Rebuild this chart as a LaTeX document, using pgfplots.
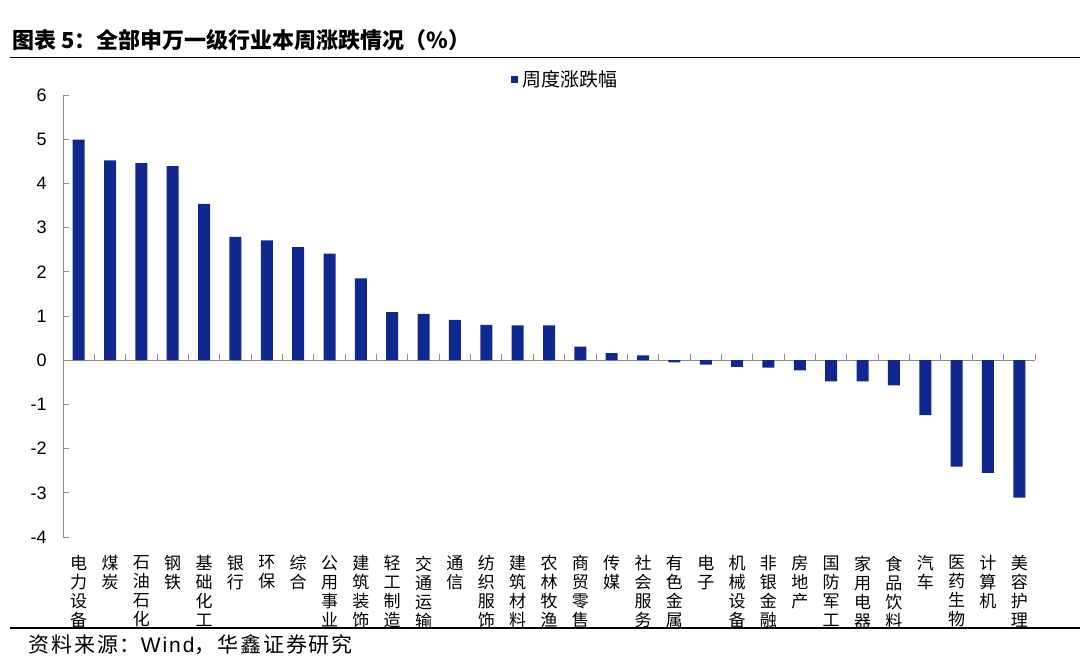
\documentclass[border=0pt]{standalone}
\usepackage{pgfplots}
\pgfplotsset{compat=1.18}
\usepackage{fontspec}
\setmainfont{Liberation Sans}
\newfontfamily\cjk{Noto Sans CJK SC}
\newfontfamily\cjkwide{Noto Sans CJK SC}[LetterSpace=9]
\newfontfamily\latwide{Liberation Sans}[LetterSpace=9]
\definecolor{barblue}{RGB}{14,40,144}
\definecolor{axgray}{RGB}{140,140,140}
\begin{document}
\begin{tikzpicture}
\useasboundingbox (0,0) rectangle (540pt,-335pt);
\node[anchor=west, inner sep=0pt, font=\cjk\bfseries\fontsize{11pt}{12pt}\selectfont] at (6pt,-20pt) {图表 5：全部申万一级行业本周涨跌情况（\%）};
\draw[line width=0.7pt] (5pt,-28.6pt) -- (540pt,-28.6pt);
\draw[line width=0.75pt] (5pt,-314pt) -- (540pt,-314pt);
\node[anchor=west, inner sep=0pt, font=\cjkwide\fontsize{10.5pt}{12pt}\selectfont] at (14pt,-322.5pt) {资料来源：{\latwide Wind}，华鑫证券研究};
\begin{axis}[
  at={(31.5pt,-268.5pt)}, anchor=south west,
  width=486pt, height=221pt, scale only axis,
  xmin=-0.5, xmax=30.5, ymin=-4, ymax=6,
  axis y line=left, axis x line=middle,
  axis line style={-, draw=axgray, line width=0.5pt},
  tick style={draw=axgray, line width=0.5pt},
  tick align=inside, major tick length=3pt,
  hide obscured x ticks=false, hide obscured y ticks=false,
  ytick={-4,-3,-2,-1,0,1,2,3,4,5,6},
  yticklabels={-4,-3,-2,-1,0,1,2,3,4,5,6},
  yticklabel style={font=\fontsize{9pt}{10pt}\selectfont, inner sep=0pt, anchor=east, xshift=-8pt},
  xtick={-0.5,0.5,...,30.5},
  xticklabels={},
  extra x ticks={0,1,...,30},
  extra x tick style={tick style={draw=none}},
  extra x tick labels={{电\\力\\设\\备},{煤\\炭},{石\\油\\石\\化},{钢\\铁},{基\\础\\化\\工},{银\\行},{环\\保},{综\\合},{公\\用\\事\\业},{建\\筑\\装\\饰},{轻\\工\\制\\造},{交\\通\\运\\输},{通\\信},{纺\\织\\服\\饰},{建\\筑\\材\\料},{农\\林\\牧\\渔},{商\\贸\\零\\售},{传\\媒},{社\\会\\服\\务},{有\\色\\金\\属},{电\\子},{机\\械\\设\\备},{非\\银\\金\\融},{房\\地\\产},{国\\防\\军\\工},{家\\用\\电\\器},{食\\品\\饮\\料},{汽\\车},{医\\药\\生\\物},{计\\算\\机},{美\\容\\护\\理}},
  xticklabel style={font=\cjk\fontsize{8.5pt}{9.5pt}\selectfont, align=center, anchor=north, inner sep=0pt, yshift=-97.5pt},
  legend style={font=\cjk\fontsize{9.5pt}{11pt}\selectfont, draw=none, fill=none, inner sep=0pt,
    at={(axis description cs:0.461,1.034)}, anchor=west},
  legend image code/.code={\fill[barblue] (0pt,-1.75pt) rectangle (3.5pt,1.75pt);},
]
\addplot[ybar, bar width=6pt, fill=barblue, draw=none] coordinates {
(0,4.99) (1,4.52) (2,4.46) (3,4.39) (4,3.54) (5,2.79) (6,2.71) (7,2.56) (8,2.41) (9,1.85)
(10,1.09) (11,1.05) (12,0.91) (13,0.80) (14,0.79) (15,0.79) (16,0.31) (17,0.16) (18,0.11)
(19,-0.05) (20,-0.10) (21,-0.15) (22,-0.17) (23,-0.23) (24,-0.48) (25,-0.48) (26,-0.57)
(27,-1.24) (28,-2.41) (29,-2.55) (30,-3.11)
};
\addlegendentry{周度涨跌幅}
\end{axis}
\end{tikzpicture}
\end{document}
